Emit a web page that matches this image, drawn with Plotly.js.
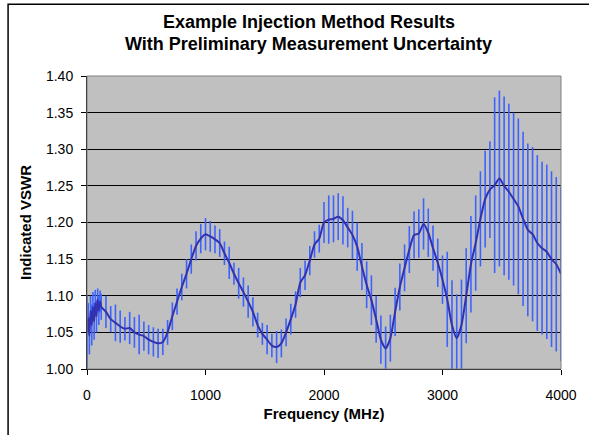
<!DOCTYPE html>
<html>
<head>
<meta charset="utf-8">
<script src="https://cdn.plot.ly/plotly-3.0.1.min.js"></script>
<style>html,body{margin:0;padding:0;background:#fff;}#chart{width:589px;height:435px;}</style>
</head>
<body>
<div id="chart"></div>
<script>
// Low-frequency dense points (MHz)
var freqLow = [0, 10, 20, 30, 40, 50, 60, 70, 80, 90, 100, 110, 120];
var vswrLow = [1.050, 1.070, 1.045, 1.080, 1.060, 1.085, 1.065, 1.090, 1.072, 1.095, 1.080, 1.092, 1.085];
var errLow  = [0.050, 0.020, 0.025, 0.020, 0.028, 0.020, 0.025, 0.018, 0.022, 0.015, 0.020, 0.015, 0.018];

// 160 .. 4000 MHz, 40 MHz steps
var freqMain = [160,200,240,280,320,360,400,440,480,520,
  560,600,640,680,720,760,800,840,880,920,
  960,1000,1040,1080,1120,1160,1200,1240,1280,1320,
  1360,1400,1440,1480,1520,1560,1600,1640,1680,1720,
  1760,1800,1840,1880,1920,1960,2000,2040,2080,2120,
  2160,2200,2240,2280,2320,2360,2400,2440,2480,2520,
  2560,2600,2640,2680,2720,2760,2800,2840,2880,2920,
  2960,3000,3040,3080,3120,3160,3200,3240,3280,3320,
  3360,3400,3440,3480,3520,3560,3600,3640,3680,3720,
  3760,3800,3840,3880,3920,3960,4000];
var vswrMain = [1.078,1.068,1.063,1.058,1.055,1.056,1.050,1.047,1.045,1.040,
  1.037,1.035,1.037,1.050,1.072,1.092,1.112,1.130,1.150,1.168,
  1.178,1.184,1.181,1.177,1.172,1.158,1.145,1.130,1.117,1.105,
  1.092,1.078,1.060,1.048,1.040,1.032,1.030,1.035,1.050,1.068,
  1.088,1.118,1.128,1.148,1.170,1.178,1.200,1.204,1.205,1.208,
  1.203,1.193,1.183,1.167,1.140,1.115,1.094,1.068,1.040,1.028,
  1.042,1.078,1.112,1.138,1.163,1.183,1.185,1.198,1.186,1.165,
  1.145,1.122,1.095,1.060,1.042,1.060,1.100,1.143,1.172,1.205,
  1.232,1.245,1.251,1.260,1.250,1.242,1.232,1.222,1.205,1.190,
  1.184,1.172,1.165,1.160,1.150,1.143,1.130];
var errMain = [0.022,0.018,0.025,0.022,0.016,0.022,0.021,0.027,0.020,0.020,
  0.020,0.020,0.018,0.017,0.019,0.018,0.018,0.020,0.020,0.020,
  0.020,0.022,0.021,0.019,0.019,0.016,0.022,0.015,0.021,0.020,
  0.022,0.020,0.017,0.015,0.020,0.016,0.022,0.019,0.019,0.021,
  0.018,0.020,0.020,0.020,0.018,0.019,0.028,0.033,0.032,0.032,
  0.033,0.027,0.033,0.033,0.032,0.032,0.034,0.032,0.033,0.030,
  0.032,0.033,0.032,0.032,0.032,0.032,0.033,0.035,0.033,0.031,
  0.033,0.033,0.065,0.061,0.060,0.062,0.065,0.066,0.065,0.065,
  0.066,0.066,0.120,0.120,0.122,0.120,0.118,0.120,0.119,0.118,
  0.119,0.120,0.118,0.119,0.120,0.119,0.119];

var yTicks = [1.00, 1.05, 1.10, 1.15, 1.20, 1.25, 1.30, 1.35, 1.40];
var xTicks = [0, 1000, 2000, 3000, 4000];
var titleLines = ["Example Injection Method Results", "With Preliminary Measurement Uncertainty"];

var freq = freqLow.concat(freqMain);
var vswr = vswrLow.concat(vswrMain);
var err = errLow.concat(errMain);

var FONT = "Liberation Sans, Arial, sans-serif";

var traces = [
  { // error bars only
    x: freq, y: vswr, type: 'scatter', mode: 'markers',
    marker: {size: 1, opacity: 0},
    error_y: {type: 'data', array: err, visible: true, color: '#3d63ff', thickness: 1.6, width: 0},
    hoverinfo: 'skip', showlegend: false
  },
  { // smoothed line
    x: freq, y: vswr, type: 'scatter', mode: 'lines',
    line: {color: '#3232b0', width: 2, shape: 'spline', smoothing: 0.6},
    showlegend: false
  }
];

var layout = {
  width: 589, height: 435,
  margin: {l: 87, r: 27.5, t: 75.7, b: 66, pad: 0},
  paper_bgcolor: '#ffffff',
  plot_bgcolor: '#c0c0c0',
  font: {family: FONT, size: 14, color: '#000'},
  showlegend: false,
  xaxis: {
    range: [0, 4000], tickvals: xTicks, ticktext: xTicks.map(String),
    showgrid: false, zeroline: false,
    showline: true, linecolor: '#000', linewidth: 1,
    ticks: 'outside', ticklen: 5, tickcolor: '#000', tickwidth: 1,
    ticklabelstandoff: 8,
    tickfont: {family: FONT, size: 14, color: '#000'},
    title: {text: '<b>Frequency (MHz)</b>', font: {family: FONT, size: 15, color: '#000'}, standoff: 6},
    automargin: false
  },
  yaxis: {
    range: [1.0, 1.4], tickvals: yTicks, ticktext: yTicks.map(function(v){return v.toFixed(2);}),
    showgrid: true, gridcolor: '#000', gridwidth: 1, zeroline: false,
    showline: true, linecolor: '#000', linewidth: 1,
    ticks: 'outside', ticklen: 5, tickcolor: '#000', tickwidth: 1,
    ticklabelstandoff: 5,
    tickfont: {family: FONT, size: 14, color: '#000'},
    title: {text: '<b>Indicated VSWR</b>', font: {family: FONT, size: 15, color: '#000'}, standoff: 10},
    automargin: false
  },
  annotations: [
    {text: '<b>' + titleLines[0] + '</b>', xref: 'paper', yref: 'paper', x: 0.468, y: 1.185,
     xanchor: 'center', yanchor: 'middle', showarrow: false, font: {family: FONT, size: 18, color: '#000'}},
    {text: '<b>' + titleLines[1] + '</b>', xref: 'paper', yref: 'paper', x: 0.468, y: 1.1095,
     xanchor: 'center', yanchor: 'middle', showarrow: false, font: {family: FONT, size: 18, color: '#000'}}
  ],
  shapes: [
    {type: 'rect', xref: 'paper', yref: 'paper', x0: 0, x1: 1, y0: 0, y1: 1,
     line: {color: '#808080', width: 1}, fillcolor: 'rgba(0,0,0,0)', layer: 'above'},
    {type: 'rect', xref: 'paper', yref: 'paper', x0: -0.1665, x1: 1.3, y0: -0.5, y1: 1.2445,
     line: {color: '#000', width: 1.5}, fillcolor: 'rgba(0,0,0,0)', layer: 'above'}
  ]
};

Plotly.newPlot('chart', traces, layout, {staticPlot: true, displayModeBar: false});
</script>
</body>
</html>
